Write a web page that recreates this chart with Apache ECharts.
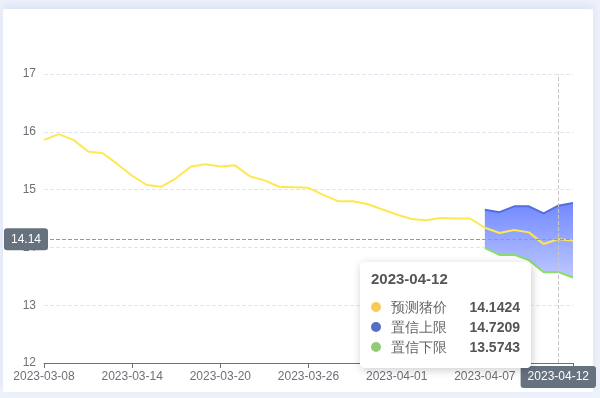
<!DOCTYPE html>
<html>
<head>
<meta charset="utf-8">
<script src="https://cdn.jsdelivr.net/npm/echarts@6/dist/echarts.min.js"></script>
<style>
  html, body { margin: 0; padding: 0; width: 600px; height: 398px; overflow: hidden; background: #eef2fb; }
  #card { position: absolute; left: 3px; top: 9px; width: 590px; height: 383px; background: #fff; box-shadow: 0 -4px 8px rgba(200,212,240,0.5); }
  #main { position: absolute; left: 0; top: 0; width: 600px; height: 398px; }
</style>
</head>
<body>
<div id="card"></div>
<div id="main"></div>
<script>
var dates = ['2023-03-08','2023-03-09','2023-03-10','2023-03-11','2023-03-12','2023-03-13','2023-03-14',
  '2023-03-15','2023-03-16','2023-03-17','2023-03-18','2023-03-19','2023-03-20','2023-03-21',
  '2023-03-22','2023-03-23','2023-03-24','2023-03-25','2023-03-26','2023-03-27','2023-03-28',
  '2023-03-29','2023-03-30','2023-03-31','2023-04-01','2023-04-02','2023-04-03','2023-04-04',
  '2023-04-05','2023-04-06','2023-04-07','2023-04-08','2023-04-09','2023-04-10','2023-04-11',
  '2023-04-12','2023-04-13'];
var price = [15.86, 15.96, 15.86, 15.66, 15.63, 15.44, 15.24, 15.08, 15.05, 15.20, 15.40, 15.44,
  15.40, 15.42, 15.23, 15.16, 15.05, 15.04, 15.03, 14.91, 14.80, 14.80, 14.75, 14.66, 14.57,
  14.49, 14.47, 14.51, 14.50, 14.50, 14.34, 14.25, 14.30, 14.26, 14.06, 14.1424, 14.12];
var upper = ['-','-','-','-','-','-','-','-','-','-','-','-','-','-','-','-','-','-','-','-',
  '-','-','-','-','-','-','-','-','-','-', 14.65, 14.61, 14.71, 14.71, 14.59, 14.7209, 14.77];
var lower = ['-','-','-','-','-','-','-','-','-','-','-','-','-','-','-','-','-','-','-','-',
  '-','-','-','-','-','-','-','-','-','-', 13.99, 13.87, 13.87, 13.78, 13.57, 13.5743, 13.48];
var yTicks = [12, 13, 14, 15, 16, 17];

// band thickness stacked on top of the lower bound
var bandDiff = upper.map(function (v, i) {
  return v === '-' ? '-' : +(v - lower[i]).toFixed(4);
});

var chart = echarts.init(document.getElementById('main'));
var option = {
  animation: false,
  grid: { left: 44, right: 27, top: 74, bottom: 35, outerBoundsMode: 'none' },
  tooltip: {
    trigger: 'axis',
    axisPointer: {
      type: 'cross',
      crossStyle: { color: '#999', type: 'dashed' }
    },
    padding: [6, 10, 10, 10],
    borderWidth: 1,
    borderColor: '#fff',
    position: function () { return [360, 262]; },
    formatter: function (params) {
      var i = params[0].dataIndex;
      var rows = [
        ['预测猪价', price[i], '#fac858'],
        ['置信上限', upper[i], '#5470c6'],
        ['置信下限', lower[i], '#91cc75']
      ];
      var html = '<div style="font-size:15px;font-weight:bold;color:#555;line-height:20px;">' + dates[i] + '</div>';
      html += '<div style="margin-top:8px;">';
      rows.forEach(function (r) {
        html += '<div style="display:flex;align-items:center;line-height:20px;font-size:14px;color:#666;min-width:149px;">' +
          '<span style="display:inline-block;width:10px;height:10px;border-radius:5px;background:' + r[2] + ';margin-right:10px;"></span>' +
          '<span>' + r[0] + '</span>' +
          '<span style="margin-left:auto;font-weight:bold;color:#555;">' + r[1] + '</span></div>';
      });
      html += '</div>';
      return html;
    }
  },
  xAxis: {
    type: 'category',
    boundaryGap: false,
    data: dates,
    axisLine: { lineStyle: { color: '#6e7079' } },
    axisTick: { interval: 5 },
    axisLabel: {
      color: '#6e7079',
      fontSize: 12,
      interval: function (idx) { return idx % 6 === 0 && idx < 36; }
    },
    axisPointer: {
      lineStyle: { color: '#c8c8c8', type: 'dashed' },
      label: { backgroundColor: '#66727e' }
    }
  },
  yAxis: {
    type: 'value',
    min: yTicks[0],
    max: yTicks[yTicks.length - 1],
    interval: 1,
    axisLine: { show: false },
    axisTick: { show: false },
    axisLabel: { color: '#6e7079', fontSize: 12 },
    splitLine: { lineStyle: { color: '#e0e6f1', type: 'dashed' } },
    axisPointer: {
      label: {
        backgroundColor: '#66727e',
        margin: -4,
        formatter: function (p) { return p.value.toFixed(2); }
      }
    }
  },
  series: [
    {
      name: '置信下限',
      type: 'line',
      stack: 'band',
      symbol: 'none',
      data: lower,
      lineStyle: { color: '#7ec95f', width: 2 },
      itemStyle: { color: '#91cc75' }
    },
    {
      name: '置信上限',
      type: 'line',
      stack: 'band',
      symbol: 'none',
      data: bandDiff,
      lineStyle: { color: '#4b65c8', width: 2 },
      itemStyle: { color: '#5470c6' },
      areaStyle: {
        opacity: 1,
        color: new echarts.graphic.LinearGradient(0, 0, 0, 1, [
          { offset: 0, color: '#687df2' },
          { offset: 1, color: '#acb6fb' }
        ])
      }
    },
    {
      name: '预测猪价',
      type: 'line',
      symbol: 'none',
      data: price,
      z: 5,
      lineStyle: { color: '#fdd247', width: 2 },
      itemStyle: { color: '#fac858' }
    }
  ]
};
chart.setOption(option);

var px = chart.convertToPixel({ xAxisIndex: 0, yAxisIndex: 0 }, [35, 14.142]);
chart.dispatchAction({ type: 'showTip', x: px[0], y: px[1] });
</script>
</body>
</html>
